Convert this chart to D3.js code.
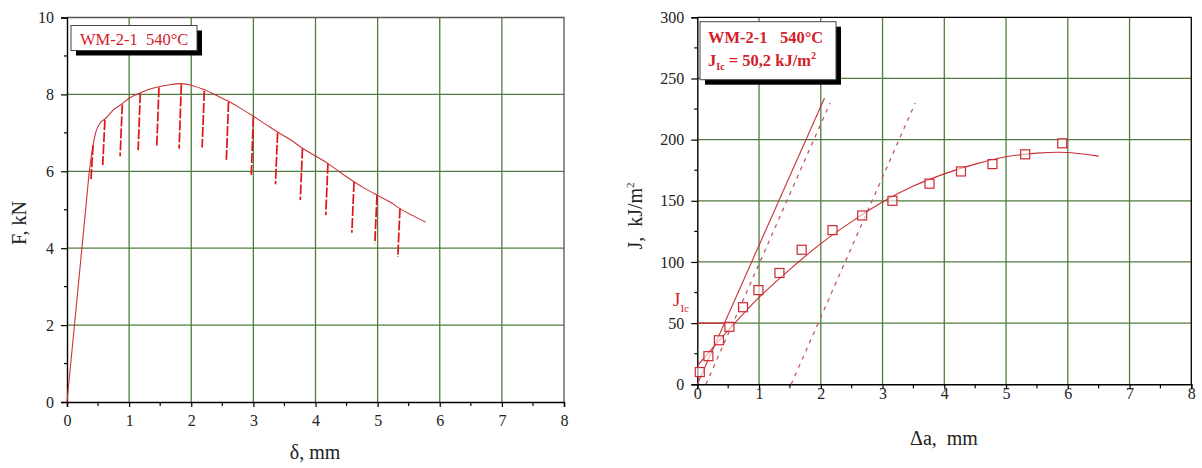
<!DOCTYPE html>
<html>
<head>
<meta charset="utf-8">
<script src="https://cdn.jsdelivr.net/npm/d3@7"></script>
<style>
  body { margin: 0; background: #fff; }
  svg { display: block; font-family: "Liberation Serif", "Times New Roman", serif; }
  svg text { white-space: pre; }
</style>
</head>
<body>
<svg id="chart" width="1202" height="468"></svg>
<script>
//////////////// Data ////////////////

// Left: load F (kN) vs displacement delta (mm), envelope of the curve
var loadDelta = [0, 0.30, 0.36, 0.42, 0.47, 0.53, 0.61, 0.75, 0.89, 1.0, 1.18, 1.30, 1.48, 1.65, 1.84, 2.0, 2.21, 2.40, 2.60, 2.80, 3.0, 3.20, 3.39, 3.60, 3.79, 4.0, 4.20, 4.40, 4.62, 4.80, 4.99, 5.20, 5.36, 5.55, 5.77];
var loadForce = [0, 5.0, 6.0, 6.68, 7.05, 7.25, 7.36, 7.60, 7.76, 7.90, 8.04, 8.12, 8.20, 8.25, 8.28, 8.24, 8.12, 7.98, 7.82, 7.63, 7.43, 7.22, 7.02, 6.82, 6.60, 6.40, 6.20, 5.97, 5.73, 5.55, 5.38, 5.20, 5.03, 4.86, 4.68];

// partial unloadings
var spikeDelta  = [0.42, 0.61, 0.89, 1.18, 1.48, 1.84, 2.21, 2.60, 3.00, 3.39, 3.79, 4.20, 4.62, 4.99, 5.36];
var spikeTop    = [6.68, 7.33, 7.74, 8.03, 8.18, 8.26, 8.09, 7.80, 7.41, 7.00, 6.59, 6.20, 5.72, 5.38, 5.03];
var spikeBottom = [5.77, 6.16, 6.39, 6.55, 6.66, 6.59, 6.62, 6.30, 5.85, 5.66, 5.25, 4.86, 4.40, 4.12, 3.77];

// Right: J-R curve, measured points
var crackGrowth = [0.04, 0.18, 0.35, 0.52, 0.74, 0.99, 1.33, 1.69, 2.19, 2.67, 3.16, 3.76, 4.27, 4.78, 5.31, 5.91];
var jValue      = [10, 23, 36, 47, 63, 77, 91, 110, 126, 138, 150, 164, 174, 180, 188, 197];

// fitted curve
var fitGrowth = [0, 0.5, 1, 1.5, 2, 2.5, 3, 3.5, 4, 4.5, 5, 5.5, 6, 6.5];
var fitJ      = [15, 44, 71, 94, 115, 133, 149, 162, 172, 180, 186, 189, 189.5, 186.5];

// blunting line and offset lines: [x0, J0, x1, J1]
var bluntLine  = [0, 0, 2.06, 234];
var offsetLine1 = [0.14, 0, 2.15, 230];
var offsetLine2 = [1.52, 0, 3.53, 230];
var jIc = 50;
var jIcGrowth = 0.6;

var xTicks = [0, 1, 2, 3, 4, 5, 6, 7, 8];
var fTicks = [0, 2, 4, 6, 8, 10];
var jTicks = [0, 50, 100, 150, 200, 250, 300];

//////////////// Drawing ////////////////

var svg = d3.select("#chart");
var red = "#d3202a";
var gridColor = "#4f7d3f";

function drawFrame(g, x, y, xMinor, yMinor, frameColor) {
    var x0 = x.range()[0], x1 = x.range()[1], y0 = y.range()[0], y1 = y.range()[1];

    // grid
    g.append("g").selectAll("line").data(xTicks.slice(1, -1)).enter()
        .append("line")
        .attr("x1", function(d){ return x(d); }).attr("x2", function(d){ return x(d); })
        .attr("y1", y0).attr("y2", y1)
        .style("stroke", gridColor).style("stroke-width", 1.3);
    g.append("g").selectAll("line").data(y.gridVals).enter()
        .append("line")
        .attr("y1", function(d){ return y(d); }).attr("y2", function(d){ return y(d); })
        .attr("x1", x0).attr("x2", x1)
        .style("stroke", gridColor).style("stroke-width", 1.3);

    // top and right frame
    g.append("path")
        .attr("d", "M" + x0 + "," + y1 + "H" + x1 + "V" + y0)
        .style("fill", "none").style("stroke", frameColor).style("stroke-width", 1.3);

    // axes
    var xAxis = d3.axisBottom(x).tickValues(xTicks).tickSize(5).tickPadding(8).tickFormat(d3.format("d"));
    var yAxis = d3.axisLeft(y).tickValues(y.tickVals).tickSize(6).tickPadding(5).tickFormat(d3.format("d"));

    var gx = g.append("g").attr("transform", "translate(0," + y0 + ")").call(xAxis);
    g.append("g").selectAll("line").data(xMinor).enter().append("line")
        .attr("x1", function(d){ return x(d); }).attr("x2", function(d){ return x(d); })
        .attr("y1", y0).attr("y2", y0 + 4)
        .style("stroke", "#000").style("stroke-width", 1.2);
    g.append("g").selectAll("line").data(yMinor).enter().append("line")
        .attr("y1", function(d){ return y(d); }).attr("y2", function(d){ return y(d); })
        .attr("x1", x0).attr("x2", x0 - 3)
        .style("stroke", "#000").style("stroke-width", 1.2);

    var gy = g.append("g").attr("transform", "translate(" + x0 + ",0)").call(yAxis);

    [gx, gy].forEach(function(a){
        a.select(".domain").style("stroke", "#000").style("stroke-width", 1.4);
        a.selectAll(".tick line").style("stroke", "#000").style("stroke-width", 1.2);
        a.selectAll("text").style("font-family", "Liberation Serif, serif")
            .style("font-size", "16px").style("fill", "#222");
    });
    return {gx: gx, gy: gy};
}

function titleBox(g, x, y, w, h) {
    g.append("rect").attr("x", x + 5).attr("y", y + 5).attr("width", w).attr("height", h)
        .style("fill", "#000");
    g.append("rect").attr("x", x).attr("y", y).attr("width", w).attr("height", h)
        .style("fill", "#fff").style("stroke", "#444").style("stroke-width", 1);
}

////////// Left chart: F vs delta //////////
var xL = d3.scaleLinear().domain([0, 8]).range([67, 564]);
var yL = d3.scaleLinear().domain([0, 10]).range([402, 17.5]);
yL.tickVals = fTicks;
yL.gridVals = [2, 4, 6, 8];

var gL = svg.append("g");
var axL = drawFrame(gL, xL, yL, d3.range(0.5, 8, 1), d3.range(1, 10, 2), "#555");
axL.gy.selectAll("text").attr("dx", "-2");

// curve envelope
var lineL = d3.line().curve(d3.curveMonotoneX)
    .x(function(d){ return xL(d[0]); })
    .y(function(d){ return yL(d[1]); });
gL.append("path")
    .datum(d3.zip(loadDelta, loadForce))
    .attr("d", lineL)
    .style("fill", "none").style("stroke", "#cc3338").style("stroke-width", 1.1);

// unloading spikes
gL.append("g").selectAll("line")
    .data(d3.zip(spikeDelta, spikeTop, spikeBottom))
    .enter().append("line")
    .attr("x1", function(d){ return xL(d[0]); })
    .attr("y1", function(d){ return yL(d[1]); })
    .attr("x2", function(d){ return xL(d[0] - 0.035); })
    .attr("y2", function(d){ return yL(d[2]); })
    .style("stroke", "#dd1515").style("stroke-width", 1.7)
    .style("stroke-dasharray", "10,2");

titleBox(gL, 71, 25.5, 126, 25);
gL.append("text").attr("x", 80).attr("y", 44.5)
    .style("font-size", "16.5px").style("fill", red)
    .text("WM-2-1  540°C");

gL.append("text")
    .attr("transform", "translate(26,223) rotate(-90)")
    .attr("text-anchor", "middle")
    .style("font-size", "20px").style("fill", "#222")
    .text("F, kN");
gL.append("text")
    .attr("x", 315).attr("y", 459)
    .attr("text-anchor", "middle")
    .style("font-size", "20px").style("fill", "#222")
    .text("δ, mm");

////////// Right chart: J vs delta a //////////
var xR = d3.scaleLinear().domain([0, 8]).range([697.3, 1191.3]);
var yR = d3.scaleLinear().domain([0, 300]).range([384.3, 17.3]);
yR.tickVals = jTicks;
yR.gridVals = [50, 100, 150, 200, 250];

var gR = svg.append("g");
var axR = drawFrame(gR, xR, yR, d3.range(0.5, 8, 1), d3.range(25, 300, 50), "#000");
axR.gx.selectAll("text").attr("dy", "0.1em");
axR.gy.selectAll("text").attr("dx", "-2");

// J_Ic horizontal
gR.append("line")
    .attr("x1", xR(0)).attr("x2", xR(jIcGrowth))
    .attr("y1", yR(jIc)).attr("y2", yR(jIc))
    .style("stroke", red).style("stroke-width", 1.2);

// blunting line
gR.append("line")
    .attr("x1", xR(bluntLine[0])).attr("y1", yR(bluntLine[1]))
    .attr("x2", xR(bluntLine[2])).attr("y2", yR(bluntLine[3]))
    .style("stroke", "#c8323c").style("stroke-width", 1.1);

// offset lines
gR.append("g").selectAll("line")
    .data([offsetLine1, offsetLine2])
    .enter().append("line")
    .attr("x1", function(d){ return xR(d[0]); }).attr("y1", function(d){ return yR(d[1]); })
    .attr("x2", function(d){ return xR(d[2]); }).attr("y2", function(d){ return yR(d[3]); })
    .style("stroke", "#c05a6a").style("stroke-width", 1.3)
    .style("stroke-dasharray", "4,5");

// fitted curve
var lineR = d3.line().curve(d3.curveCatmullRom)
    .x(function(d){ return xR(d[0]); })
    .y(function(d){ return yR(d[1]); });
gR.append("path")
    .datum(d3.zip(fitGrowth, fitJ))
    .attr("d", lineR)
    .style("fill", "none").style("stroke", "#cc2a33").style("stroke-width", 1.1);

// measured points
gR.append("g").selectAll("rect")
    .data(d3.zip(crackGrowth, jValue))
    .enter().append("rect")
    .attr("x", function(d){ return xR(d[0]) - 4.5; })
    .attr("y", function(d){ return yR(d[1]) - 4.5; })
    .attr("width", 9).attr("height", 9)
    .style("fill", "#fff").style("fill-opacity", 0.6)
    .style("stroke", "#cc2a33").style("stroke-width", 1.2);

// J_Ic label
var jl = gR.append("text").attr("x", 673).attr("y", 306)
    .style("font-size", "19px").style("fill", red);
jl.append("tspan").text("J");
jl.append("tspan").attr("dy", 6).style("font-size", "11px").text("Ic");

titleBox(gR, 700, 21.7, 136, 58);
gR.append("text").attr("x", 708).attr("y", 43)
    .style("font-size", "16.5px").style("font-weight", "bold").style("fill", red)
    .text("WM-2-1   540°C");
var t2 = gR.append("text").attr("x", 708).attr("y", 66)
    .style("font-size", "16.5px").style("font-weight", "bold").style("fill", red);
t2.append("tspan").text("J");
t2.append("tspan").attr("dy", 4).style("font-size", "10px").text("Ic");
t2.append("tspan").attr("dy", -4).text(" = 50,2 kJ/m");
t2.append("tspan").attr("dy", -7).style("font-size", "10px").text("2");

var yt = gR.append("text")
    .attr("transform", "translate(642,216) rotate(-90)")
    .attr("text-anchor", "middle")
    .style("font-size", "20px").style("fill", "#222");
yt.append("tspan").text("J,  kJ/m");
yt.append("tspan").attr("dy", -8).style("font-size", "11px").text("2");

gR.append("text")
    .attr("x", 944).attr("y", 445)
    .attr("text-anchor", "middle")
    .style("font-size", "20px").style("fill", "#222")
    .text("Δa,  mm");
</script>
</body>
</html>
